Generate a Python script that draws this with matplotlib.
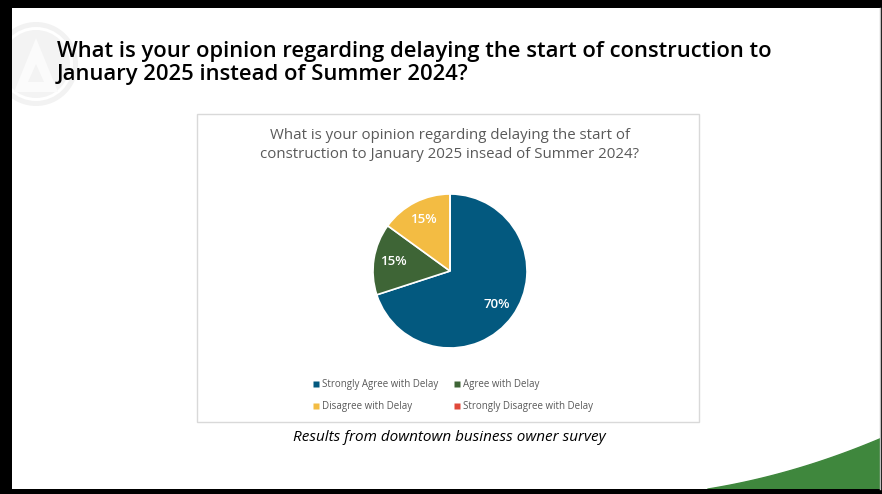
import matplotlib
matplotlib.use("Agg")
import matplotlib.pyplot as plt
from matplotlib.patches import Rectangle, Circle, Polygon
from matplotlib.lines import Line2D
import numpy as np

# Survey data
categories = ["Strongly Agree with Delay", "Agree with Delay",
              "Disagree with Delay", "Strongly Disagree with Delay"]
shares = [70, 15, 15, 0]
colors = ["#03597F", "#3E6536", "#F3BC43", "#E0493A"]

slide_title = ("What is your opinion regarding delaying the start of construction to\n"
               "January 2025 instead of Summer 2024?")
chart_title = ("What is your opinion regarding delaying the start of\n"
               "construction to January 2025 insead of Summer 2024?")
caption = "Results from downtown business owner survey"

W, H = 882, 494
fig = plt.figure(figsize=(W / 100, H / 100), dpi=100)
fig.patch.set_facecolor("white")

# Slide canvas in pixel coordinates
bg = fig.add_axes([0, 0, 1, 1])
bg.set_xlim(0, W)
bg.set_ylim(H, 0)
bg.axis("off")

# Faint logo watermark in the upper-left corner
bg.add_patch(Circle((36, 64), 42, facecolor="#F2F2F2", edgecolor="none", zorder=1))
bg.add_patch(Circle((36, 64), 37, facecolor="white", edgecolor="none", zorder=1))
bg.add_patch(Circle((36, 64), 34, facecolor="#F3F3F3", edgecolor="none", zorder=1))
bg.add_patch(Polygon([[36, 38], [14, 92], [58, 92]], closed=True,
                     facecolor="#FBFBFB", edgecolor="none", zorder=1))
bg.add_patch(Polygon([[36, 64], [28, 82], [44, 82]], closed=True,
                     facecolor="#F3F3F3", edgecolor="none", zorder=1))

# Green swoosh at the bottom right
xs = np.linspace(708, W, 60)
t = (xs - 708) / (W - 708)
ys = 489 - 51 * (0.55 * t + 0.45 * t ** 2)
bg.fill(np.r_[xs, W, 708], np.r_[ys, 494, 494], color="#3F873D", zorder=2)

# Slide title
bg.text(57, 63, slide_title, fontsize=15.8, fontweight="semibold",
        family="Open Sans", color="black", va="center", ha="left",
        linespacing=1.18, zorder=3)

# Chart frame
bg.add_patch(Rectangle((197, 114), 502, 308, facecolor="white",
                       edgecolor="#D9D9D9", linewidth=1, zorder=3))
bg.text(450, 145, chart_title, fontsize=10.8, family="Open Sans",
        color="#595959", ha="center", va="center", linespacing=1.45, zorder=4)

# Caption
bg.text(449, 437, caption, fontsize=11, style="italic", family="Open Sans",
        color="black", ha="center", va="center", zorder=4)

# Slide border
bg.add_patch(Rectangle((0, 0), W, 8, facecolor="black", edgecolor="none", zorder=10))
bg.add_patch(Rectangle((0, 0), 12, H, facecolor="black", edgecolor="none", zorder=10))
bg.add_patch(Rectangle((0, 489), W, 5, facecolor="black", edgecolor="none", zorder=10))
bg.add_patch(Rectangle((881, 0), 1, H, facecolor="black", edgecolor="none", zorder=10))
bg.plot([880, 880], [8, 489], color="#BFBFBF", lw=1, zorder=10)

# Pie chart
cx, cy, r = 450, 271, 77
pie_ax = fig.add_axes([(cx - r) / W, (H - cy - r) / H, 2 * r / W, 2 * r / H])
pie_ax.axis("off")


def pct_label(p):
    return f"{p:.0f}%" if p > 0.5 else ""


wedges, _, autotexts = pie_ax.pie(
    shares, colors=colors, startangle=90, counterclock=False, radius=1,
    autopct=pct_label, pctdistance=0.75,
    wedgeprops=dict(edgecolor="white", linewidth=1.2),
    textprops=dict(color="white", fontsize=9.5, fontweight="semibold", family="Open Sans"))
pie_ax.set_xlim(-1, 1)
pie_ax.set_ylim(-1, 1)

# Legend, filled row by row
order = [0, 2, 1, 3]
handles = [Line2D([], [], marker="s", linestyle="none", markersize=4,
                  markerfacecolor=colors[i], markeredgecolor="none") for i in order]
labels = [categories[i] for i in order]
fig.legend(handles, labels, ncol=2, loc="center",
           bbox_to_anchor=(452 / W, 1 - 395.5 / H), frameon=False,
           prop=dict(family="Open Sans", size=7), labelcolor="#595959",
           handletextpad=0.1, columnspacing=1.4, handlelength=1.0,
           labelspacing=1.15)

fig.savefig("out.png", dpi=100, facecolor="white")
